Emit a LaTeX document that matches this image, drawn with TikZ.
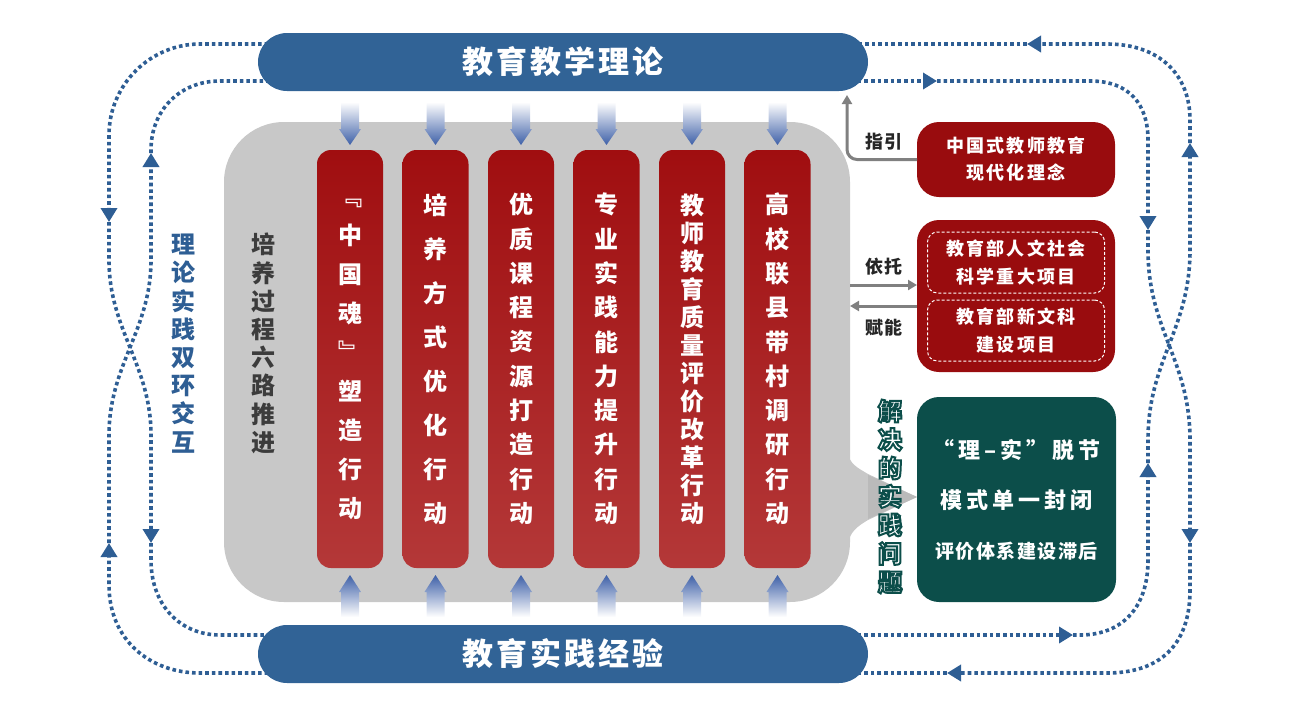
\documentclass[tikz,border=0pt]{standalone}
\usepackage{fontspec}
\setmainfont{Noto Sans CJK SC}
\usetikzlibrary{positioning,calc,arrows.meta,backgrounds}

\definecolor{barblue}{RGB}{49,99,150}
\definecolor{loopblue}{RGB}{46,94,148}
\definecolor{arrowblue}{RGB}{62,96,168}
\definecolor{stagegray}{RGB}{200,200,200}
\definecolor{tipgray}{RGB}{186,186,186}
\definecolor{coltop}{RGB}{160,14,16}
\definecolor{colbottom}{RGB}{180,56,56}
\definecolor{infored}{RGB}{153,12,14}
\definecolor{probgreen}{RGB}{12,78,74}
\definecolor{guidegray}{RGB}{128,128,128}
\definecolor{labelgray}{RGB}{60,60,60}

\newcommand\solvetext{解\\决\\的\\实\\践\\问\\题}
\newcommand\outlinetext[1]{\special{pdf:literal direct 2 Tr 2 w 0.047 0.306 0.290 RG}#1\special{pdf:literal direct 0 Tr}}

\begin{document}
\begin{tikzpicture}[
  x=1pt, y=-1pt,
  every node/.style={inner sep=0pt, outer sep=0pt, font=\bfseries},
  barstyle/.style={
        fill=barblue, text=white,
        rounded corners=29pt,
        minimum width=610pt, minimum height=58pt,
        font=\bfseries\fontsize{31}{31}\selectfont\addfontfeatures{LetterSpace=10}
  },
  colstyle/.style={
        top color=coltop, bottom color=colbottom, text=white,
        rounded corners=14pt,
        minimum width=66pt, minimum height=418pt,
        align=center
  },
  colfont/.style={font=\bfseries\fontsize{24}{#1}\selectfont},
  sidefont/.style={font=\bfseries\fontsize{24}{28.2}\selectfont, align=center},
  infostyle/.style={
        fill=infored, text=white,
        rounded corners=22pt,
        minimum width=198pt,
        align=center,
        font=\bfseries\fontsize{18}{27}\selectfont\addfontfeatures{LetterSpace=12}
  },
  projstyle/.style={
        draw=white, line width=1pt, dash pattern=on 3pt off 2pt,
        rounded corners=10pt,
        minimum width=177pt, minimum height=61pt,
        text=white, align=center,
        font=\bfseries\fontsize{18}{27.5}\selectfont\addfontfeatures{LetterSpace=12}
  },
  labelstyle/.style={
        text=black!85,
        font=\bfseries\fontsize{18}{18}\selectfont\addfontfeatures{LetterSpace=4}
  },
  guideline/.style={
        draw=guidegray, line width=3pt,
        -{Triangle[width=10pt,length=9pt]}
  },
  loopline/.style={
        draw=loopblue, line width=3.6pt,
        dash pattern=on 3.6pt off 3pt
  },
  looptip/.style={-{Triangle[width=16pt,length=14pt]}}
]

    \useasboundingbox (0,0) rectangle (1296,715);

    % training process
    \node[fill=stagegray, rounded corners=60pt,
          minimum width=626pt, minimum height=480pt] (stage) at (537,362) {};
    \fill[stagegray] (840,440) -- (848,440) -- (848,452)
        .. controls (849,464) and (858,468) .. (868,474) -- (917,497) -- (868,520)
        .. controls (858,526) and (849,532) .. (848,545) -- (840,545) -- cycle;
    \fill[tipgray] (868,475) -- (917,497) -- (868,519) -- cycle;

    % six actions
    \node[colstyle, colfont=39] (col_1) at (350,359) {﹃\\中\\国\\魂\\﹄\\塑\\造\\行\\动};
    \node[colstyle, colfont=44, right=19.5pt of col_1] (col_2) {培\\养\\方\\式\\优\\化\\行\\动};
    \node[colstyle, colfont=34.3, right=19.5pt of col_2] (col_3) {优\\质\\课\\程\\资\\源\\打\\造\\行\\动};
    \node[colstyle, colfont=34.3, right=19.5pt of col_3] (col_4) {专\\业\\实\\践\\能\\力\\提\\升\\行\\动};
    \node[colstyle, colfont=28, right=19.5pt of col_4] (col_5) {教\\师\\教\\育\\质\\量\\评\\价\\改\\革\\行\\动};
    \node[colstyle, colfont=34.3, right=19.5pt of col_5] (col_6) {高\\校\\联\\县\\带\\村\\调\\研\\行\\动};

    % theory and practice
    \node[barstyle] (theory) at (563,62) {教育教学理论};
    \node[barstyle] (practice) at (563,654) {教育实践经验};

    \foreach \i in {1,...,6}{
        \shade[top color=white, middle color=arrowblue!70, bottom color=arrowblue, shift={(col_\i.north)}]
            (-9,-48) -- (-9,-21) -- (-11,-21) -- (0,-5) -- (11,-21) -- (9,-21) -- (9,-48) -- cycle;
        \shade[top color=arrowblue, middle color=arrowblue!70, bottom color=white, shift={(col_\i.south)}]
            (-9,49) -- (-9,24) -- (-11,24) -- (0,7) -- (11,24) -- (9,24) -- (9,49) -- cycle;
    }

    % side labels
    \node[sidefont, text=loopblue] (loop_label) at (183.5,343.5) {理\\论\\实\\践\\双\\环\\交\\互};
    \node[sidefont, text=labelgray] (stage_label) at (263.5,343.5) {培\\养\\过\\程\\六\\路\\推\\进};
    \node[sidefont, font=\bfseries\fontsize{24}{28.5}\selectfont, text=white]
        (solve_label) at (890,496.5) {\outlinetext{\solvetext}};

    % right column
    \node[infostyle, minimum height=75pt] (info_1) at (1016,159.5) {中国式教师教育\\现代化理念};
    \node[infostyle, minimum height=152pt] (info_2) at (1016,296) {};
    \node[projstyle] (proj_1) at (1016,262.5) {教育部人文社会\\科学重大项目};
    \node[projstyle, below=7pt of proj_1] (proj_2) {教育部新文科\\建设项目};
    \node[fill=probgreen, text=white, rounded corners=22pt,
          minimum width=199pt, minimum height=205pt, align=center,
          font=\bfseries\fontsize{22}{50}\selectfont\addfontfeatures{LetterSpace=18}]
          (problems) at (1016.5,499.5)
          {“理–实”脱节\\模式单一封闭\\{\fontsize{19}{50}\selectfont\addfontfeatures{LetterSpace=8}评价体系建设滞后}};

    \draw[guideline, rounded corners=10pt] (info_1.west) -| ($(theory.south east)+(-21,4)$);
    \draw[guideline] ($(stage.east |- info_2.west)+(0,-11)$) -- ($(info_2.west)+(0,-11)$);
    \draw[guideline] ($(info_2.west)+(0,10)$) -- ($(stage.east |- info_2.west)+(0,10)$);
    \node[labelstyle] (guide_label) at (884,142) {指引};
    \node[labelstyle] (rely_label) at (884,267) {依托};
    \node[labelstyle] (power_label) at (884,328) {赋能};

    % double loop
    \coordinate (TL_o) at ($(theory.west)+(30,-18)$);
    \coordinate (TL_i) at ($(theory.west)+(30,19)$);
    \coordinate (TR_o) at ($(theory.east)+(-30,-18)$);
    \coordinate (TR_i) at ($(theory.east)+(-30,19)$);
    \coordinate (PL_i) at ($(practice.west)+(30,-19)$);
    \coordinate (PL_o) at ($(practice.west)+(30,19)$);
    \coordinate (PR_i) at ($(practice.east)+(-30,-19)$);
    \coordinate (PR_o) at ($(practice.east)+(-30,19)$);

    \begin{scope}[on background layer]
    % left
    \draw[loopline, looptip] (TL_o) -- (200,44) .. controls (150,44) and (109,85) .. (109,135) -- (109,222);
    \draw[loopline, looptip] (109,222) -- (109,260) .. controls (109,330) and (151,365) .. (151,435) -- (151,543);
    \draw[loopline] (151,543) -- (151,560) .. controls (151,605) and (180,635) .. (220,635) -- (PL_i);
    \draw[loopline, looptip] (PL_o) -- (200,673) .. controls (150,673) and (109,640) .. (109,585) -- (109,543);
    \draw[loopline, looptip] (109,543) -- (109,435) .. controls (109,365) and (151,330) .. (151,260) -- (151,153);
    \draw[loopline] (151,153) -- (151,150) .. controls (151,110) and (180,81) .. (220,81) -- (TL_i);
    % right
    \draw[loopline, looptip] (TR_i) -- (937,81);
    \draw[loopline, looptip] (937,81) -- (1090,81) .. controls (1130,81) and (1148,105) .. (1148,140) -- (1148,230);
    \draw[loopline, looptip] (1148,230) -- (1148,250) .. controls (1148,330) and (1190,360) .. (1190,440) -- (1190,543);
    \draw[loopline, looptip] (1190,543) -- (1190,590) .. controls (1190,645) and (1160,673) .. (1107,673) -- (947,673);
    \draw[loopline] (947,673) -- (PR_o);
    \draw[loopline, looptip] (PR_i) -- (1073,635);
    \draw[loopline, looptip] (1073,635) -- (1080,635) .. controls (1120,635) and (1148,610) .. (1148,560) -- (1148,463);
    \draw[loopline, looptip] (1148,463) -- (1148,440) .. controls (1148,360) and (1190,330) .. (1190,250) -- (1190,143);
    \draw[loopline, looptip] (1190,143) -- (1190,120) .. controls (1190,75) and (1160,44) .. (1107,44) -- (1027,44);
    \draw[loopline] (1027,44) -- (TR_o);
    \end{scope}
\end{tikzpicture}
\end{document}
